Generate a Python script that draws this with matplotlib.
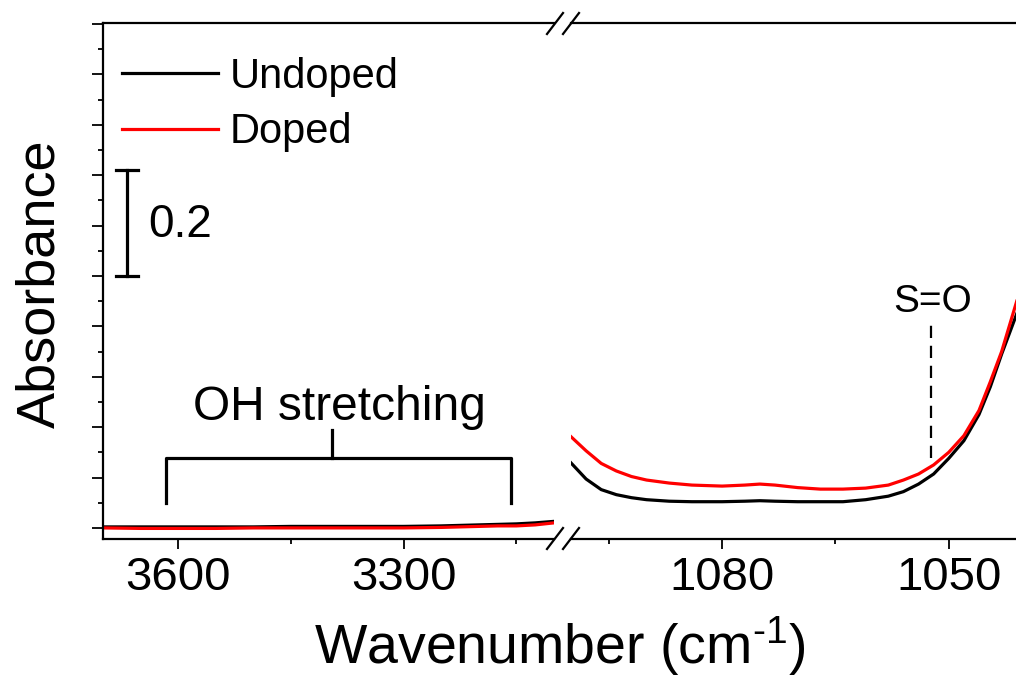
import numpy as np
import matplotlib
matplotlib.use("Agg")
import matplotlib.pyplot as plt
from matplotlib.lines import Line2D

plt.rcParams['font.family'] = ['Liberation Sans', 'DejaVu Sans']
plt.rcParams['mathtext.fontset'] = 'custom'
plt.rcParams['mathtext.rm'] = 'Liberation Sans'
plt.rcParams['mathtext.it'] = 'Liberation Sans'

# high wavenumber region (OH stretching)
wn_high = [3700, 3650, 3600, 3550, 3500, 3450, 3400, 3350, 3300, 3250, 3200, 3175, 3150, 3125, 3100]
undoped_high = [0.002, 0.002, 0.002, 0.002, 0.002, 0.003, 0.003, 0.003, 0.003, 0.004, 0.006, 0.007, 0.008, 0.010, 0.013]
doped_high = [0.000, -0.001, -0.001, -0.001, 0.000, 0.000, 0.000, 0.000, 0.000, 0.001, 0.003, 0.004, 0.004, 0.006, 0.010]

# low wavenumber region (S=O)
wn_low = [1100, 1098, 1096, 1094, 1092, 1090, 1087, 1084, 1080, 1077, 1075, 1073, 1070,
          1067, 1064, 1061, 1058, 1056, 1054, 1052, 1050, 1048, 1046, 1044.5, 1043, 1042, 1041]
undoped_low = [0.129, 0.097, 0.076, 0.066, 0.060, 0.056, 0.053, 0.052, 0.052, 0.053, 0.054, 0.053, 0.052,
               0.052, 0.052, 0.056, 0.063, 0.072, 0.087, 0.107, 0.138, 0.173, 0.225, 0.280, 0.345, 0.385, 0.425]
doped_low = [0.181, 0.153, 0.128, 0.113, 0.102, 0.095, 0.089, 0.085, 0.083, 0.085, 0.087, 0.085, 0.080,
             0.077, 0.077, 0.079, 0.085, 0.095, 0.107, 0.125, 0.150, 0.183, 0.233, 0.290, 0.350, 0.400, 0.450]

high_ticks = [3600, 3300]
low_ticks = [1080, 1050]

W, H = 1016, 677
fig = plt.figure(figsize=(W / 100, H / 100), dpi=100)

def px(x0, y0, x1, y1):
    return [x0 / W, 1 - y1 / H, (x1 - x0) / W, (y1 - y0) / H]

ax1 = fig.add_axes(px(103, 23, 554, 539))
ax2 = fig.add_axes(px(571, 23, 1016, 539))

lw = 2.3
for ax in (ax1, ax2):
    for s in ax.spines.values():
        s.set_linewidth(1.6)
    ax.spines['right'].set_visible(False)
    ax.set_ylim(-0.022, 1.002)
    ax.tick_params(axis='x', which='major', direction='out', length=7.5, width=1.3,
                   labelsize=34, pad=5)
    ax.tick_params(axis='x', which='minor', direction='out', length=3.8, width=1.3)

ax1.plot(wn_high, undoped_high, color='black', lw=lw, label='Undoped')
ax1.plot(wn_high, doped_high, color='#ff0000', lw=lw, label='Doped')
ax1.set_xlim(3700, 3100)
ax1.set_xticks(high_ticks)
ax1.set_xticks([3450, 3150], minor=True)
ax1.set_yticks(np.arange(0, 1.01, 0.1))
ax1.set_yticks(np.arange(0.05, 1.0, 0.1), minor=True)
ax1.set_yticklabels([])
ax1.tick_params(axis='y', which='major', direction='out', length=8, width=1.3)
ax1.tick_params(axis='y', which='minor', direction='out', length=3.5, width=1.3)

ax2.plot(wn_low, undoped_low, color='black', lw=lw)
ax2.plot(wn_low, doped_low, color='#ff0000', lw=lw)
ax2.set_xlim(1100, 1041.1)
ax2.set_xticks(low_ticks)
ax2.set_xticks([1095, 1065], minor=True)
ax2.spines['left'].set_visible(False)
ax2.set_yticks([])

# legend
ax1.legend(loc='upper left', bbox_to_anchor=(0.042, 0.934), frameon=False, fontsize=30,
           handlelength=2.3, handletextpad=0.29, labelspacing=0.37, borderpad=0, borderaxespad=0)

# scale bar
ax1.plot([3668, 3668], [0.5, 0.71], color='black', lw=2.3)
ax1.plot([3683, 3653], [0.71, 0.71], color='black', lw=2.3)
ax1.plot([3683, 3653], [0.5, 0.5], color='black', lw=2.3)
ax1.text(3640, 0.602, '0.2', fontsize=33, ha='left', va='center')

# OH stretching bracket
ax1.plot([3616, 3616, 3157, 3157], [0.05, 0.139, 0.139, 0.05], color='black', lw=2.3)
ax1.plot([3395, 3395], [0.139, 0.194], color='black', lw=2.3)
ax1.text(3385, 0.214, 'OH stretching', fontsize=34.5, ha='center', va='baseline')

# S=O marker
ax2.plot([1052.3, 1052.3], [0.138, 0.403], color='black', lw=1.6, ls=(0, (5.5, 3.5)))
ax2.text(1052.1, 0.449, 'S=O', fontsize=28, ha='center', va='center')

# axis break marks
def slash(cx, cy):
    fig.add_artist(Line2D([(cx - 8) / W, (cx + 8) / W], [1 - (cy + 10.5) / H, 1 - (cy - 10.5) / H],
                          transform=fig.transFigure, color='black', lw=1.6))

for cy in (23.5, 538.5):
    slash(555, cy)
    slash(571, cy)

fig.text(560 / W, 1 - 664 / H, r'Wavenumber (cm$^{\text{-1}}$)', fontsize=40,
         ha='center', va='baseline')
fig.text(40 / W, 1 - 284 / H, 'Absorbance', fontsize=39, ha='center', va='center', rotation=90)

fig.savefig('out.png', dpi=100)
